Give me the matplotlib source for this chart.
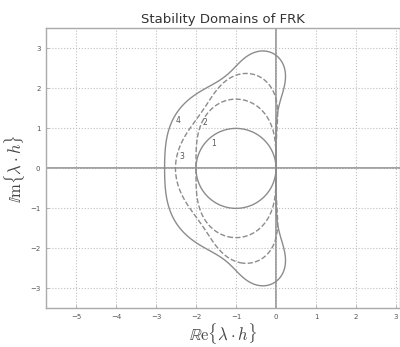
import numpy as np
import matplotlib
matplotlib.use("Agg")
import matplotlib.pyplot as plt
from math import factorial

plt.rcParams['mathtext.fontset'] = 'cm'

# Data: RK orders, their labels & label positions
orders = [1, 2, 3, 4]
linestyles = ['-', '--', '--', '-']
label_x = [-1.55, -1.78, -2.36, -2.44]
label_y = [0.62, 1.15, 0.30, 1.19]
xticks = [-5, -4, -3, -2, -1, 0, 1, 2, 3]
yticks = [-3, -2, -1, 0, 1, 2, 3]

fig = plt.figure(figsize=(4.0, 3.47), dpi=100)
ax = fig.add_axes([0.115, 0.1115, 0.885, 0.8065])

re = np.linspace(-3.5, 1.0, 700)
im = np.linspace(-3.4, 3.4, 700)
X, Y = np.meshgrid(re, im)
Z = X + 1j * Y
curve_color = '#8c8c8c'
for p, ls in zip(orders, linestyles):
    R = sum(Z**k / factorial(k) for k in range(p + 1))
    ax.contour(X, Y, np.abs(R), levels=[1.0], colors=[curve_color],
               linewidths=1.0, linestyles=ls)

for p, lx, ly in zip(orders, label_x, label_y):
    ax.text(lx, ly, str(p), fontsize=5.5, color='#555555', ha='center', va='center')

ax.axhline(0, color='#999999', lw=1.3, zorder=1)
ax.axvline(0, color='#999999', lw=1.3, zorder=1)

ax.set_xlim(-5.75, 3.1)
ax.set_ylim(-3.5, 3.5)
ax.set_xticks(xticks)
ax.set_yticks(yticks)
ax.set_xticklabels([str(t).replace('-', '\u2212') for t in xticks])
ax.set_yticklabels([str(t).replace('-', '\u2212') for t in yticks])
ax.tick_params(direction='in', length=2, width=0.6, colors='#aaaaaa',
               labelsize=5, labelcolor='#555555', pad=4)
ax.grid(True, linestyle=':', color='#c0c0c0', lw=0.8)
for s in ax.spines.values():
    s.set_color('#aaaaaa')
    s.set_linewidth(1.0)

ax.set_title('Stability Domains of FRK', fontsize=9.5, color='#333333', pad=4)
ax.set_xlabel(r'$\mathbb{R}\mathrm{e}\{\lambda\cdot h\}$', fontsize=12, color='#444444', labelpad=1)
ax.set_ylabel(r'$\mathbb{I}\mathrm{m}\{\lambda\cdot h\}$', fontsize=12, color='#444444', labelpad=2)

fig.savefig('out.png', dpi=100)
